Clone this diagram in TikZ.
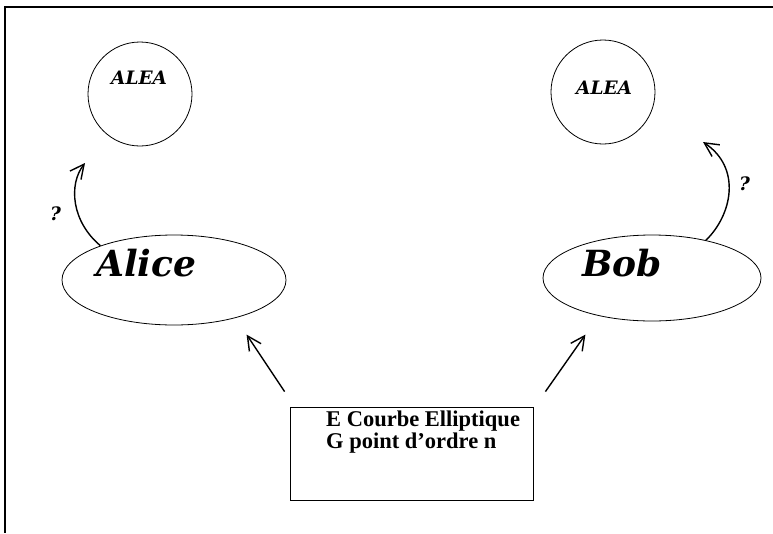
\documentclass[tikz,border=0pt]{standalone}
\usepackage{fontspec}
\setmainfont{Liberation Serif}
\newfontfamily\schola{DejaVu Serif}
\usetikzlibrary{shapes}
\usetikzlibrary{arrows.meta}

\begin{document}
\begin{tikzpicture}[x=1pt, y=-1pt,
  fleche/.style={-{Straight Barb[length=14pt,width=14pt]}, line width=1.4pt},
  trait/.style={draw=black, line width=0.8pt}
]
\tikzset{
    bulle/.style = {circle, trait, minimum size=104pt, inner sep=0pt},
    acteur/.style = {ellipse, trait, inner sep=0pt},
    nom/.style = {anchor=base west, inner sep=0pt, font=\schola\bfseries\itshape\fontsize{36}{40}\selectfont},
    alea/.style = {anchor=base west, inner sep=0pt, font=\schola\bfseries\itshape\fontsize{18.5}{22}\selectfont},
    texte/.style = {anchor=base west, inner sep=0pt, font=\bfseries\fontsize{22.5}{26}\selectfont},
}
\useasboundingbox (0,0) rectangle (773,533);
\draw[line width=1.2pt] (773,7) -- (5,7) -- (5,533);

% les deux tirages
\node (aleaA) [bulle] at (140,94) {};
\node (aleaB) [bulle] at (603,92) {};
\node (motA) [alea] at (111,84) {ALEA};
\node (motB) [alea] at (576,94) {ALEA};

% les deux acteurs
\node (alice) [acteur, minimum width=224pt, minimum height=90pt] at (174,280) {};
\node (bob) [acteur, minimum width=218pt, minimum height=86pt] at (652,278) {};
\node (nomA) [nom] at (96,276) {Alice};
\node (nomB) [nom] at (582,276) {Bob};

% parametres publics
\node (donnees) [draw, line width=0.8pt, minimum width=243pt, minimum height=93pt] at (411.5,453.5) {};
\node (ligne1) [texte] at (326,426) {E Courbe Elliptique};
\node (ligne2) [texte] at (326,448) {G point d'ordre n};

\draw[fleche] ([shift={(-5,-15)}]donnees.north west) -- +(-38,-57);
\draw[fleche] ([shift={(12,-15)}]donnees.north east) -- +(40,-57);

\draw[fleche] (alice.155) .. controls (72,222) and (68,185) .. (85,163);
\draw[fleche] (bob.35) .. controls (732,215) and (742,168) .. (703,142);
\node (qA) [alea] at (50,220) {?};
\node (qB) [alea] at (739,190) {?};

\end{tikzpicture}
\end{document}
